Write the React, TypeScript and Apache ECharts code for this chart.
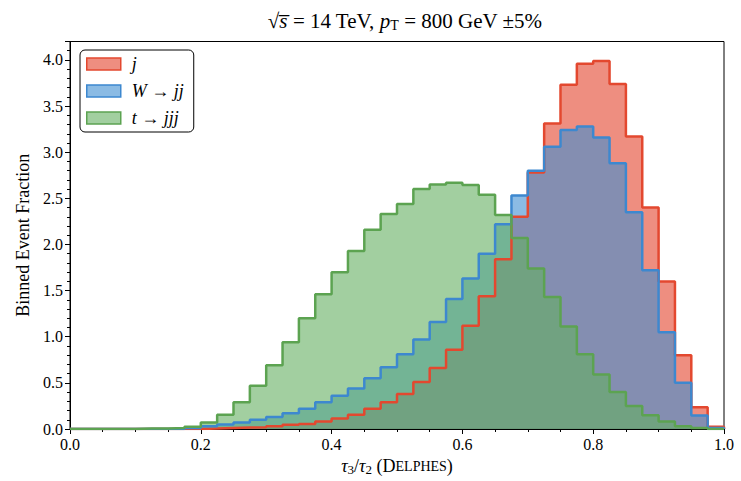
import { useEffect, useRef } from 'react';
import * as echarts from 'echarts';

// Histogram bin width on the tau3/tau2 axis (40 bins from 0 to 1)
const BIN_WIDTH = 0.025;

// Binned event fraction per bin, QCD jets (j)
const jetFraction = [
  0, 0, 0, 0, 0, 0, 0, 0, 0.005, 0.01,
  0.015, 0.02, 0.03, 0.045, 0.055, 0.08, 0.115, 0.155, 0.22, 0.29,
  0.38, 0.51, 0.66, 0.86, 1.12, 1.44, 1.84, 2.3, 2.78, 3.31,
  3.73, 3.96, 3.99, 3.74, 3.17, 2.4, 1.6, 0.8, 0.235, 0.025,
];

// Binned event fraction per bin, W -> jj
const wFraction = [
  0, 0, 0, 0, 0, 0, 0, 0.01, 0.03, 0.05,
  0.07, 0.1, 0.13, 0.17, 0.22, 0.29, 0.36, 0.44, 0.55, 0.67,
  0.81, 0.97, 1.16, 1.41, 1.63, 1.9, 2.22, 2.53, 2.8, 3.06,
  3.24, 3.28, 3.16, 2.88, 2.35, 1.72, 1.05, 0.5, 0.145, 0.01,
];

// Binned event fraction per bin, t -> jjj
const topFraction = [
  0, 0, 0, 0, 0.005, 0.005, 0.01, 0.025, 0.07, 0.155,
  0.29, 0.47, 0.69, 0.94, 1.2, 1.46, 1.7, 1.93, 2.16, 2.33,
  2.44, 2.6, 2.65, 2.67, 2.645, 2.54, 2.32, 2.07, 1.74, 1.43,
  1.11, 0.81, 0.59, 0.4, 0.25, 0.15, 0.08, 0.03, 0.01, 0,
];

const seriesNames = ['j', 'W → jj', 't → jjj'];
const edgeColors = ['#e3482f', '#3d88cf', '#5ca351'];
const fillColors = ['#e3432b', '#3e8ed2', '#64af61'];
const FILL_ALPHA = 0.6;

const SERIF = '"Liberation Serif", "DejaVu Serif", serif';

// Step outline points: each bin starts at its left edge, the last one closes down to zero
function stepPoints(values: number[]): [number, number][] {
  const pts: [number, number][] = values.map((v, i) => [+(i * BIN_WIDTH).toFixed(4), v]);
  const end = +(values.length * BIN_WIDTH).toFixed(4);
  pts.push([end, values[values.length - 1]]);
  pts.push([end, 0]);
  return pts;
}

function hexToRgba(hex: string, a: number) {
  const n = parseInt(hex.slice(1), 16);
  return `rgba(${(n >> 16) & 255},${(n >> 8) & 255},${n & 255},${a})`;
}

export default function App() {
  const ref = useRef<HTMLDivElement>(null);

  useEffect(() => {
    if (!ref.current) return;
    const chart = echarts.init(ref.current, undefined, { renderer: 'svg' });
    const datasets = [jetFraction, wFraction, topFraction];

    const fillSeries = datasets.map((vals, i) => ({
      name: seriesNames[i],
      type: 'line',
      step: 'end',
      data: stepPoints(vals),
      showSymbol: false,
      symbol: 'none',
      z: 2,
      itemStyle: { color: edgeColors[i] },
      lineStyle: { width: 0, opacity: 0 },
      areaStyle: { color: fillColors[i], opacity: FILL_ALPHA },
      silent: true,
    }));

    const edgeSeries = datasets.map((vals, i) => ({
      name: seriesNames[i],
      type: 'line',
      step: 'end',
      data: stepPoints(vals),
      showSymbol: false,
      symbol: 'none',
      z: 3,
      itemStyle: { color: edgeColors[i] },
      lineStyle: { color: edgeColors[i], width: 2.5 },
      silent: true,
    }));

    chart.setOption({
      animation: false,
      backgroundColor: '#ffffff',
      title: {
        text: '√{ov|s\u0305} = 14 TeV, {it|p}{sub|T} = 800 GeV ±5%',
        left: 400,
        textAlign: 'center',
        top: 4,
        textStyle: {
          fontFamily: SERIF,
          fontSize: 21,
          fontWeight: 'normal',
          color: '#000',
          rich: {
            ov: { fontFamily: SERIF, fontSize: 21, fontStyle: 'italic', color: '#000' },
            it: { fontFamily: SERIF, fontSize: 21, fontStyle: 'italic', color: '#000' },
            sub: { fontFamily: SERIF, fontSize: 14, color: '#000', padding: [9, 0, 0, 0] },
          },
        },
      },
      legend: {
        orient: 'vertical',
        left: 80,
        top: 50,
        padding: [5, 10, 5, 6],
        itemWidth: 34,
        itemHeight: 12,
        itemGap: 9,
        borderColor: '#000',
        borderWidth: 1,
        borderRadius: 5,
        backgroundColor: '#ffffff',
        selectedMode: false,
        data: seriesNames.map((name, i) => ({
          name,
          icon: 'rect',
          itemStyle: {
            color: hexToRgba(fillColors[i], FILL_ALPHA),
            borderColor: edgeColors[i],
            borderWidth: 1.5,
          },
        })),
        textStyle: {
          fontFamily: SERIF,
          fontSize: 18,
          fontStyle: 'italic',
          color: '#000',
          padding: [0, 0, 0, 6],
        },
      },
      grid: {
        left: 70,
        right: 17,
        top: 41.5,
        bottom: 52,
        show: true,
        borderColor: '#000',
        borderWidth: 1,
        backgroundColor: 'transparent',
      },
      xAxis: {
        type: 'value',
        min: 0,
        max: 1,
        interval: 0.2,
        name: '{it|τ}{sub|3}/{it|τ}{sub|2} (D{sc|ELPHES})',
        nameLocation: 'middle',
        nameGap: 25,
        nameTextStyle: {
          fontFamily: SERIF,
          fontSize: 18,
          color: '#000',
          rich: {
            it: { fontFamily: SERIF, fontSize: 18, fontStyle: 'italic', color: '#000' },
            sub: { fontFamily: SERIF, fontSize: 13, color: '#000', padding: [7, 0, 0, 0] },
            sc: { fontFamily: SERIF, fontSize: 14, color: '#000', padding: [2, 0, 0, 0] },
          },
        },
        axisLine: { show: true, lineStyle: { color: '#000', width: 1 } },
        axisTick: { show: true, length: 5, lineStyle: { color: '#000', width: 1 } },
        minorTick: { show: true, splitNumber: 4, length: 3, lineStyle: { color: '#000', width: 1 } },
        splitLine: { show: false },
        axisLabel: {
          fontFamily: SERIF,
          fontSize: 16,
          color: '#000',
          margin: 7,
          formatter: (v: number) => v.toFixed(1),
        },
      },
      yAxis: {
        type: 'value',
        min: 0,
        max: 4.2,
        interval: 0.5,
        name: 'Binned Event Fraction',
        nameLocation: 'middle',
        nameGap: 38,
        nameTextStyle: { fontFamily: SERIF, fontSize: 18, color: '#000' },
        axisLine: { show: true, lineStyle: { color: '#000', width: 1 } },
        axisTick: { show: true, length: 5, lineStyle: { color: '#000', width: 1 } },
        minorTick: { show: true, splitNumber: 5, length: 3, lineStyle: { color: '#000', width: 1 } },
        splitLine: { show: false },
        axisLabel: {
          fontFamily: SERIF,
          fontSize: 16,
          color: '#000',
          margin: 7,
          showMaxLabel: false,
          formatter: (v: number) => v.toFixed(1),
        },
      },
      series: [...fillSeries, ...edgeSeries],
    });

    return () => chart.dispose();
  }, []);

  return (
    <div
      ref={ref}
      style={{ position: 'fixed', left: 0, top: 0, width: 741, height: 481, background: '#fff' }}
    />
  );
}
